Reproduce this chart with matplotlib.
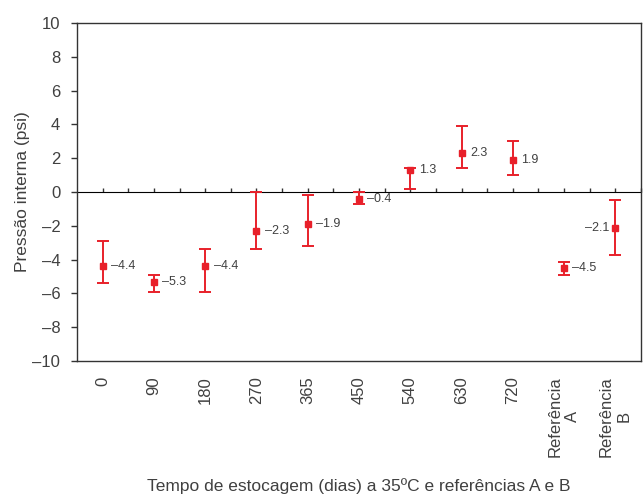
import matplotlib
matplotlib.use("Agg")
import matplotlib.pyplot as plt
import numpy as np

categories = ["0", "90", "180", "270", "365", "450", "540", "630", "720",
              "Referência\nA", "Referência\nB"]
values = [-4.4, -5.3, -4.4, -2.3, -1.9, -0.4, 1.3, 2.3, 1.9, -4.5, -2.1]
err_low = [-5.4, -5.9, -5.9, -3.4, -3.2, -0.7, 0.15, 1.45, 1.0, -4.9, -3.75]
err_high = [-2.9, -4.9, -3.4, 0.0, -0.15, 0.0, 1.45, 3.9, 3.0, -4.15, -0.45]
value_labels = ["–4.4", "–5.3", "–4.4", "–2.3", "–1.9", "–0.4", "1.3", "2.3", "1.9", "–4.5", "–2.1"]
yticks = [-10, -8, -6, -4, -2, 0, 2, 4, 6, 8, 10]
ytick_labels = ["–10", "–8", "–6", "–4", "–2", "0", "2", "4", "6", "8", "10"]

plt.rcParams['font.family'] = ['Liberation Sans', 'DejaVu Sans']
red = "#e8202a"
txt = "#404040"

fig = plt.figure(figsize=(6.43, 4.94), dpi=100)
ax = fig.add_axes([0.1198, 0.2692, 0.877, 0.6842])

x = np.arange(len(categories))
v = np.array(values)
lo = v - np.array(err_low)
hi = np.array(err_high) - v
ax.errorbar(x, v, yerr=[lo, hi], fmt="s", color=red, ms=5, elinewidth=1.4,
            capsize=4, capthick=1.4, zorder=3)

for i, (xi, vi, lab) in enumerate(zip(x, v, value_labels)):
    if i == len(x) - 1:
        ax.annotate(lab, (xi, vi), xytext=(-4, 0), textcoords="offset points",
                    ha="right", va="center", fontsize=9, color=txt)
    else:
        ax.annotate(lab, (xi, vi), xytext=(6, 0), textcoords="offset points",
                    ha="left", va="center", fontsize=9, color=txt)

ax.set_xlim(-0.5, len(categories) - 0.5)
ax.set_ylim(-10, 10)
ax.set_yticks(yticks)
ax.set_yticklabels(ytick_labels, fontsize=12, color=txt)
ax.set_xticks(x)
ax.set_xticklabels(categories, rotation=90, fontsize=12, color=txt,
                   multialignment="center", va="top")
ax.tick_params(axis="x", length=0, pad=11)
ax.tick_params(axis="y", length=4, width=1, color="#333333", pad=8)

for s in ax.spines.values():
    s.set_color("#333333")
    s.set_linewidth(1.0)

sec = ax.secondary_xaxis(0.5)
sec.set_xticks(np.arange(0, len(categories), 0.5))
sec.set_xticklabels([])
sec.tick_params(axis="x", length=3, width=1, color="#333333", direction="out")
sec.spines["bottom"].set_color("#333333")
sec.spines["bottom"].set_linewidth(1.0)

ax.set_ylabel("Pressão interna (psi)", fontsize=12.5, color=txt, labelpad=2)
ax.set_xlabel("Tempo de estocagem (dias) a 35ºC e referências A e B",
              fontsize=12.5, color=txt, labelpad=15)

fig.savefig("out.png", dpi=100)
